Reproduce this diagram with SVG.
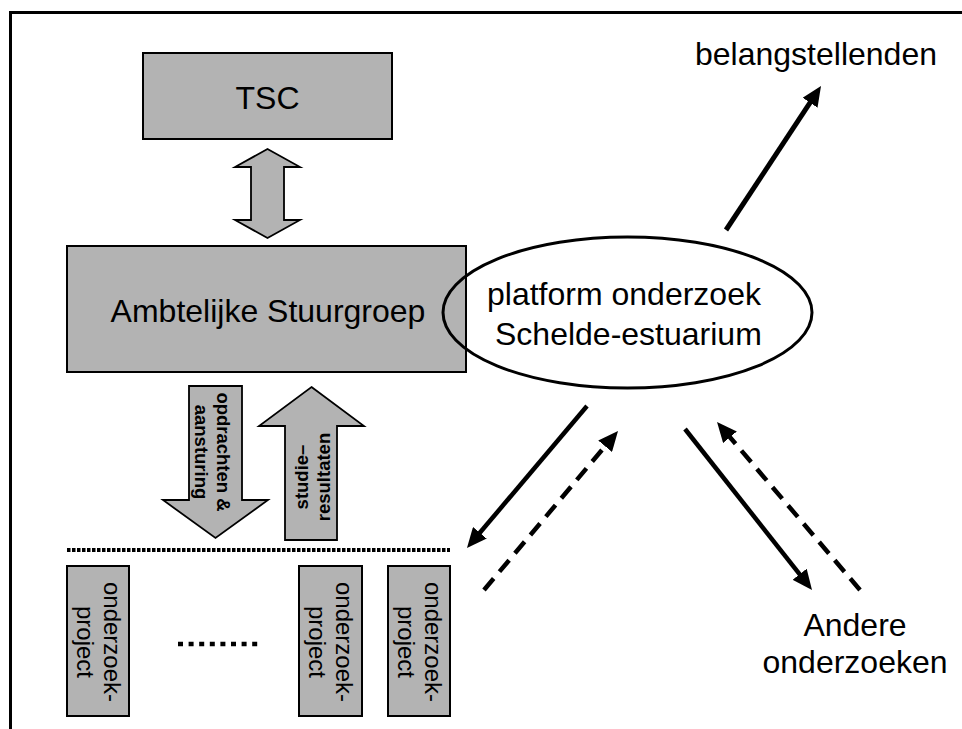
<svg xmlns="http://www.w3.org/2000/svg" width="962" height="729" viewBox="0 0 962 729">
<style>
.box{fill:#b3b3b3;stroke:#000;stroke-width:2}
.blk{fill:#b3b3b3;stroke:#000;stroke-width:1.8;stroke-linejoin:miter}
.t{font-family:"Liberation Sans",Arial,sans-serif;font-size:32px;fill:#000}
.tb{font-family:"Liberation Sans",Arial,sans-serif;font-size:18.5px;font-weight:bold;fill:#000;text-anchor:middle}
.tp{font-family:"Liberation Sans",Arial,sans-serif;font-size:24px;fill:#000;text-anchor:middle}
.c{stroke:#000;fill:none}
</style>
<defs>
<marker id="ah" markerUnits="userSpaceOnUse" viewBox="0 0 20 18" markerWidth="20" markerHeight="18" refX="4" refY="9" orient="auto">
<path d="M0,0 L20,9 L0,18 z" fill="#000"/>
</marker>
</defs>
<rect width="962" height="729" fill="#fff"/>
<polyline points="10.5,729 10.5,12.5 962,12.5" fill="none" stroke="#000" stroke-width="3"/>

<g id="tsc">
<rect class="box" x="143" y="53" width="249" height="86"/>
<text class="t" x="267.5" y="109" text-anchor="middle">TSC</text>
</g>

<g id="ambtelijke-stuurgroep">
<rect class="box" x="67" y="246" width="399" height="126"/>
<text class="t" x="268" y="322" text-anchor="middle">Ambtelijke Stuurgroep</text>
</g>

<g id="platform">
<ellipse cx="627.5" cy="312.5" rx="184.5" ry="75.5" fill="none" stroke="#000" stroke-width="3"/>
<text class="t" x="487" y="305">platform onderzoek</text>
<text class="t" x="495" y="345">Schelde-estuarium</text>
</g>

<g id="belangstellenden">
<text class="t" x="695" y="65">belangstellenden</text>
</g>

<g id="andere-onderzoeken">
<text class="t" x="855" y="636" text-anchor="middle">Andere</text>
<text class="t" x="855" y="673" text-anchor="middle">onderzoeken</text>
</g>

<g id="project-1">
<rect class="box" x="67" y="566" width="62" height="150"/>
<g transform="translate(104,642) rotate(90)">
<text class="tp" x="0" y="0">onderzoek-</text>
<text class="tp" x="0" y="27">project</text>
</g>
</g>
<g id="project-2">
<rect class="box" x="299" y="566" width="63" height="150"/>
<g transform="translate(336,642) rotate(90)">
<text class="tp" x="0" y="0">onderzoek-</text>
<text class="tp" x="0" y="27">project</text>
</g>
</g>
<g id="project-3">
<rect class="box" x="388" y="566" width="62" height="150"/>
<g transform="translate(425,642) rotate(90)">
<text class="tp" x="0" y="0">onderzoek-</text>
<text class="tp" x="0" y="27">project</text>
</g>
</g>

<g id="ellipsis">
<line x1="178" y1="644" x2="258" y2="644" stroke="#000" stroke-width="4.5" stroke-dasharray="5 5.6"/>
</g>

<g id="connectors">
<polygon id="tsc-asg" class="blk" points="267.5,149 300,167 284,167 284,220 300,220 267.5,238 235,220 251,220 251,167 235,167"/>
<g id="opdrachten">
<polygon class="blk" points="189,386 242,386 242,500 268,500 215.5,538 163,500 189,500"/>
<g transform="translate(217,452) rotate(90)">
<text class="tb" x="0" y="0">opdrachten &amp;</text>
<text class="tb" x="0" y="22">aansturing</text>
</g>
</g>
<g id="studieresultaten">
<polygon class="blk" points="311.5,387 364,426 337,426 337,540 285,540 285,426 259,426"/>
<g transform="translate(308,477) rotate(-90)">
<text class="tb" x="0" y="0">studie–</text>
<text class="tb" x="0" y="22">resultaten</text>
</g>
</g>
<line class="c" x1="67" y1="550" x2="450" y2="550" stroke-width="4" stroke-dasharray="3.5 1.5"/>
<line class="c" x1="726" y1="230" x2="812.2" y2="99.4" stroke-width="5" marker-end="url(#ah)"/>
<line class="c" x1="587" y1="406" x2="477.3" y2="535.8" stroke-width="4.5" marker-end="url(#ah)"/>
<line class="c" x1="484" y1="590" x2="607.7" y2="443.2" stroke-width="4.5" stroke-dasharray="15 9" marker-end="url(#ah)"/>
<line class="c" x1="685" y1="429" x2="802.1" y2="577.4" stroke-width="4.5" marker-end="url(#ah)"/>
<line class="c" x1="860" y1="590" x2="727.4" y2="434.2" stroke-width="4.5" stroke-dasharray="15 9" marker-end="url(#ah)"/>
</g>
</svg>
